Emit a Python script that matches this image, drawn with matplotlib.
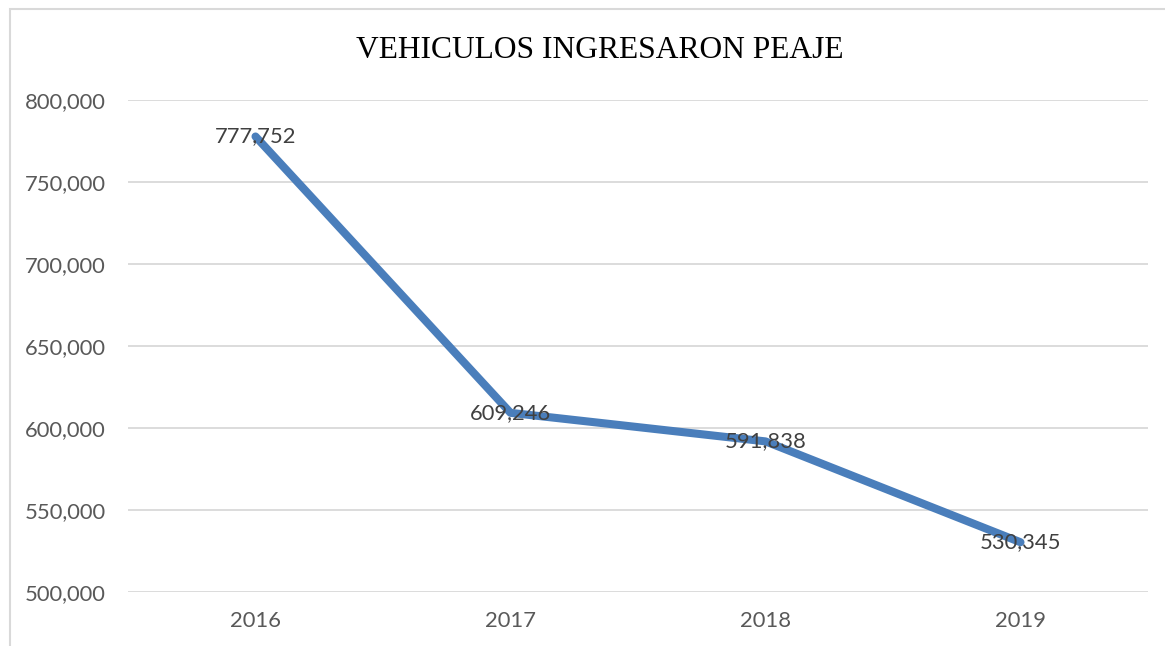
import matplotlib
matplotlib.use("Agg")
import matplotlib.pyplot as plt
from matplotlib.patches import Rectangle
from matplotlib.ticker import FuncFormatter, MultipleLocator

years = ["2016", "2017", "2018", "2019"]
vehicles = [777752, 609246, 591838, 530345]
title = "VEHICULOS INGRESARON PEAJE"

W, H = 1165, 646
fig = plt.figure(figsize=(W / 100, H / 100), dpi=100)
fig.patch.set_facecolor("white")

# chart border (top and left visible, extends beyond right/bottom)
fig.patches.append(Rectangle((9.5 / W, -0.1), 1.2, 1 - 9.5 / H + 0.1,
                             transform=fig.transFigure, fill=False,
                             edgecolor="#d9d9d9", linewidth=1.5))

ax = fig.add_axes([128 / W, 1 - 592 / H, (1148 - 128) / W, (592 - 100) / H])
x = list(range(len(years)))
ax.plot(x, vehicles, color="#4A7EBB", linewidth=5.8, solid_capstyle="round",
        solid_joinstyle="round", zorder=3)

FS = 15.8
for xi, v in zip(x, vehicles):
    ax.text(xi, v, f"{v:,}", ha="center", va="center", fontsize=FS,
            family="Lato", color="#404040", zorder=4)

ax.set_xlim(-0.5, len(years) - 0.5)
ax.set_ylim(500000, 800000)
ax.yaxis.set_major_locator(MultipleLocator(50000))
ax.yaxis.set_major_formatter(FuncFormatter(lambda v, p: f"{int(v):,}"))
ax.set_xticks(x)
ax.set_xticklabels(years)
ax.tick_params(axis="both", length=0, labelsize=FS, labelcolor="#595959")
ax.tick_params(axis="y", pad=16)
ax.tick_params(axis="x", pad=14)
for lab in ax.get_xticklabels() + ax.get_yticklabels():
    lab.set_family("Lato")
ax.grid(axis="y", color="#d9d9d9", linewidth=1.3)
ax.set_axisbelow(True)
for s in ax.spines.values():
    s.set_visible(False)

fig.text(600 / W, 1 - 50 / H, title, ha="center", va="center",
         fontsize=22.7, family="Liberation Serif", color="black")

fig.savefig("out.png", dpi=100)
